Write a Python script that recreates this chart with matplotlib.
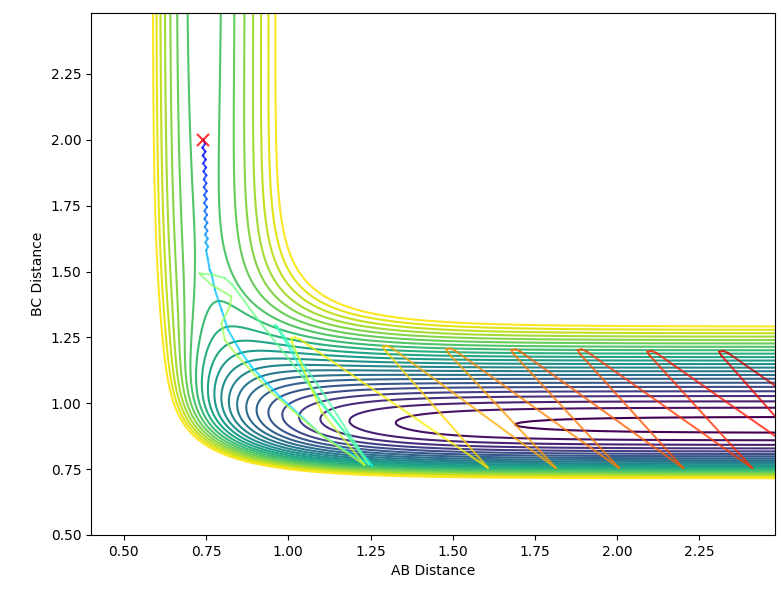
import numpy as np
import matplotlib
matplotlib.use("Agg")
import matplotlib.pyplot as plt
from matplotlib.collections import LineCollection

# LEPS surface parameters (kJ/mol, Angstrom): H-H and H-F
D_HH, B_HH, RE_HH, S_HH = 458.2, 1.942, 0.7414, 0.20
D_HF, B_HF, RE_HF, S_HF = 590.7, 2.219, 0.917, 0.167

# contour levels (kJ/mol)
level_lo, level_hi, n_levels = -588.0, -402.5, 23

# trajectory: AB distance, BC distance, colour value (time)
# approach of C towards AB (small AB vibration)
approach_ab = [0.742, 0.747, 0.739, 0.748, 0.740, 0.749, 0.741, 0.750, 0.742, 0.751,
               0.743, 0.751, 0.743, 0.752, 0.744, 0.752, 0.744, 0.753, 0.745, 0.753,
               0.745, 0.754, 0.746, 0.754, 0.747, 0.755, 0.748, 0.756, 0.750]
approach_bc = [2.000, 1.985, 1.970, 1.955, 1.940, 1.925, 1.910, 1.895, 1.880, 1.865,
               1.850, 1.835, 1.820, 1.805, 1.790, 1.775, 1.760, 1.745, 1.730, 1.715,
               1.700, 1.685, 1.670, 1.655, 1.640, 1.625, 1.610, 1.595, 1.580]
approach_t = [0.10, 0.107, 0.114, 0.121, 0.128, 0.135, 0.142, 0.149, 0.156, 0.163,
              0.17, 0.177, 0.184, 0.191, 0.198, 0.205, 0.212, 0.219, 0.226, 0.233,
              0.24, 0.247, 0.254, 0.261, 0.268, 0.275, 0.282, 0.289, 0.296]
# crossing of the barrier region and first BC vibrations
react_ab = [0.755, 0.761, 0.766, 0.777, 0.797, 0.817, 0.852, 0.888, 0.974, 1.10, 1.20, 1.255,
            1.10, 0.975, 0.962, 0.959, 0.966, 1.10, 1.245,
            1.05, 0.90, 0.830, 0.807, 0.770, 0.729,
            0.767, 0.827, 0.822, 0.797, 0.807, 0.847, 0.95, 1.10, 1.232,
            1.10, 1.012, 1.009, 1.02, 1.035]
react_bc = [1.550, 1.506, 1.494, 1.430, 1.354, 1.278, 1.202, 1.139, 1.025, 0.88, 0.80, 0.763,
            1.00, 1.270, 1.292, 1.297, 1.292, 1.05, 0.768,
            1.09, 1.33, 1.450, 1.475, 1.488, 1.493,
            1.449, 1.405, 1.367, 1.304, 1.240, 1.177, 1.04, 0.88, 0.766,
            0.97, 1.230, 1.247, 1.250, 1.243]
react_t = [0.30, 0.305, 0.31, 0.315, 0.32, 0.325, 0.33, 0.335, 0.34, 0.345, 0.35, 0.355,
           0.38, 0.41, 0.42, 0.425, 0.43, 0.445, 0.46,
           0.47, 0.48, 0.49, 0.495, 0.50, 0.505,
           0.52, 0.53, 0.535, 0.54, 0.545, 0.55, 0.56, 0.57, 0.58,
           0.60, 0.625, 0.63, 0.635, 0.64]
# H + BC(v) separating: alternating bottom tips and rounded tops
exit_ab = [1.607, 1.295, 1.288, 1.30, 1.315,
           1.814, 1.487, 1.480, 1.492, 1.507,
           2.006, 1.685, 1.678, 1.690, 1.705,
           2.201, 1.887, 1.880, 1.892, 1.907,
           2.411, 2.099, 2.092, 2.104, 2.119,
           2.620, 2.317, 2.310, 2.322, 2.337, 2.84]
exit_bc = [0.755, 1.200, 1.215, 1.218, 1.210,
           0.754, 1.190, 1.205, 1.208, 1.200,
           0.754, 1.187, 1.202, 1.205, 1.197,
           0.754, 1.187, 1.202, 1.205, 1.197,
           0.754, 1.181, 1.196, 1.199, 1.191,
           0.754, 1.181, 1.196, 1.199, 1.191, 0.754]
exit_t = [0.67, 0.70, 0.705, 0.71, 0.715,
          0.735, 0.75, 0.755, 0.76, 0.765,
          0.775, 0.79, 0.795, 0.80, 0.805,
          0.815, 0.83, 0.835, 0.84, 0.845,
          0.855, 0.87, 0.875, 0.88, 0.885,
          0.895, 0.91, 0.915, 0.92, 0.925, 0.95]
start_ab, start_bc = 0.742, 2.0


def q_and_j(r, D, b, re, S):
    e1 = np.exp(-b * (r - re))
    e2 = e1 * e1
    pre = D / (4.0 * (1.0 + S))
    Q = pre * ((3.0 + S) * e2 - (2.0 + 6.0 * S) * e1)
    J = pre * ((1.0 + 3.0 * S) * e2 - (6.0 + 2.0 * S) * e1)
    return Q, J


def leps(rab, rbc):
    rac = rab + rbc
    qab, jab = q_and_j(rab, D_HH, B_HH, RE_HH, S_HH)
    qbc, jbc = q_and_j(rbc, D_HF, B_HF, RE_HF, S_HF)
    qac, jac = q_and_j(rac, D_HF, B_HF, RE_HF, S_HF)
    root = np.sqrt(np.maximum(jab**2 + jbc**2 + jac**2 - jab*jbc - jbc*jac - jab*jac, 0))
    return qab + qbc + qac - root


ab = np.linspace(0.4, 2.48, 420)
bc = np.linspace(0.5, 2.48, 400)
AB, BC = np.meshgrid(ab, bc)
V = leps(AB, BC)
levels = np.linspace(level_lo, level_hi, n_levels)

fig = plt.figure(figsize=(7.81, 5.99), dpi=100)
ax = fig.add_axes([91/781, 1 - 535/599, (775 - 91)/781, (535 - 13.3)/599])
ax.contour(AB, BC, V, levels=levels, cmap="viridis", linewidths=1.5)

traj_ab = approach_ab + react_ab + exit_ab
traj_bc = approach_bc + react_bc + exit_bc
traj_t = np.array(approach_t + react_t + exit_t)
pts = np.column_stack([traj_ab, traj_bc]).reshape(-1, 1, 2)
segs = np.concatenate([pts[:-1], pts[1:]], axis=1)
lc = LineCollection(segs, cmap="jet", norm=plt.Normalize(0, 1), linewidths=1.5,
                    alpha=0.75, capstyle="round", joinstyle="round")
lc.set_array(0.5 * (traj_t[:-1] + traj_t[1:]))
ax.add_collection(lc)
ax.plot([start_ab], [start_bc], "x", color="red", markersize=8, mew=1.5, alpha=0.8)

ax.set_xlim(0.4, 2.48)
ax.set_ylim(0.5, 2.48)
ax.set_xticks([0.5, 0.75, 1.0, 1.25, 1.5, 1.75, 2.0, 2.25])
ax.set_yticks([0.5, 0.75, 1.0, 1.25, 1.5, 1.75, 2.0, 2.25])
ax.set_xlabel("AB Distance")
ax.set_ylabel("BC Distance")
fig.savefig("out.png", dpi=100)
